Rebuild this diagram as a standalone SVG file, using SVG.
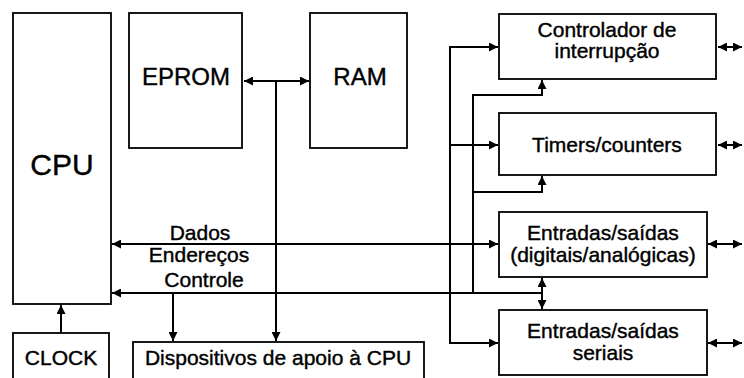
<svg xmlns="http://www.w3.org/2000/svg" width="744" height="378" viewBox="0 0 744 378">
<style>
.box{fill:#fff;stroke:#000;stroke-width:1.8}
.ln{fill:none;stroke:#000;stroke-width:2}
.t{font-family:"Liberation Sans",Arial,sans-serif;font-size:21px;fill:#000;stroke:#000;stroke-width:0.4;text-anchor:middle}
.big{font-size:24px}
.cpu{font-size:30px}
</style>
<defs>
<marker id="ah" viewBox="0 0 10 10" refX="10" refY="5" markerWidth="10" markerHeight="9" markerUnits="userSpaceOnUse" orient="auto-start-reverse">
<path d="M0,0 L10,5 L0,10 z" fill="#000"/>
</marker>
</defs>
<g id="connectors">
<line class="ln" x1="244" y1="81" x2="309" y2="81" marker-start="url(#ah)" marker-end="url(#ah)"/>
<line class="ln" x1="276" y1="81" x2="276" y2="341" marker-end="url(#ah)"/>
<line class="ln" x1="112" y1="244" x2="498" y2="244" marker-start="url(#ah)" marker-end="url(#ah)"/>
<line class="ln" x1="112" y1="293" x2="542" y2="293" marker-start="url(#ah)"/>
<line class="ln" x1="173" y1="293" x2="173" y2="341" marker-end="url(#ah)"/>
<line class="ln" x1="61" y1="333" x2="61" y2="305" marker-end="url(#ah)"/>
<polyline class="ln" points="498,47 450,47 450,343 498,343" marker-end="url(#ah)"/>
<line class="ln" x1="450" y1="47" x2="498" y2="47" marker-end="url(#ah)"/>
<line class="ln" x1="450" y1="145" x2="498" y2="145" marker-end="url(#ah)"/>
<polyline class="ln" points="473,293 473,95 542,95 542,80" marker-end="url(#ah)"/>
<polyline class="ln" points="473,192 542,192 542,176" marker-end="url(#ah)"/>
<line class="ln" x1="542" y1="278" x2="542" y2="309" marker-start="url(#ah)" marker-end="url(#ah)"/>
<line class="ln" x1="718" y1="47" x2="742" y2="47" marker-start="url(#ah)" marker-end="url(#ah)"/>
<line class="ln" x1="718" y1="145" x2="742" y2="145" marker-start="url(#ah)" marker-end="url(#ah)"/>
<line class="ln" x1="708" y1="244" x2="742" y2="244" marker-start="url(#ah)" marker-end="url(#ah)"/>
<line class="ln" x1="708" y1="343" x2="742" y2="343" marker-start="url(#ah)" marker-end="url(#ah)"/>
</g>
<g id="bus-labels">
<text class="t" x="200" y="240">Dados</text>
<text class="t" x="199" y="262">Endereços</text>
<text class="t" x="204" y="287">Controle</text>
</g>
<g id="cpu"><rect class="box" x="13" y="13" width="98" height="291"/><text class="t cpu" x="62" y="175">CPU</text></g>
<g id="eprom"><rect class="box" x="129" y="13" width="113" height="135"/><text class="t big" x="186" y="85">EPROM</text></g>
<g id="ram"><rect class="box" x="310" y="13" width="97" height="135"/><text class="t big" x="360" y="85">RAM</text></g>
<g id="clock"><rect class="box" x="13" y="333" width="96" height="50"/><text class="t" x="61" y="365">CLOCK</text></g>
<g id="dispositivos"><rect class="box" x="133" y="342" width="291" height="45"/><text class="t" x="278" y="365">Dispositivos de apoio à CPU</text></g>
<g id="controlador"><rect class="box" x="499" y="14" width="217" height="65"/><text class="t" x="607" y="37">Controlador de</text><text class="t" x="607" y="58">interrupção</text></g>
<g id="timers"><rect class="box" x="499" y="113" width="217" height="62"/><text class="t" x="607" y="152">Timers/counters</text></g>
<g id="es-digitais"><rect class="box" x="499" y="212" width="208" height="65"/><text class="t" x="603" y="240">Entradas/saídas</text><text class="t" x="603" y="262">(digitais/analógicas)</text></g>
<g id="es-seriais"><rect class="box" x="499" y="310" width="208" height="65"/><text class="t" x="603" y="338">Entradas/saídas</text><text class="t" x="603" y="360">seriais</text></g>
</svg>
